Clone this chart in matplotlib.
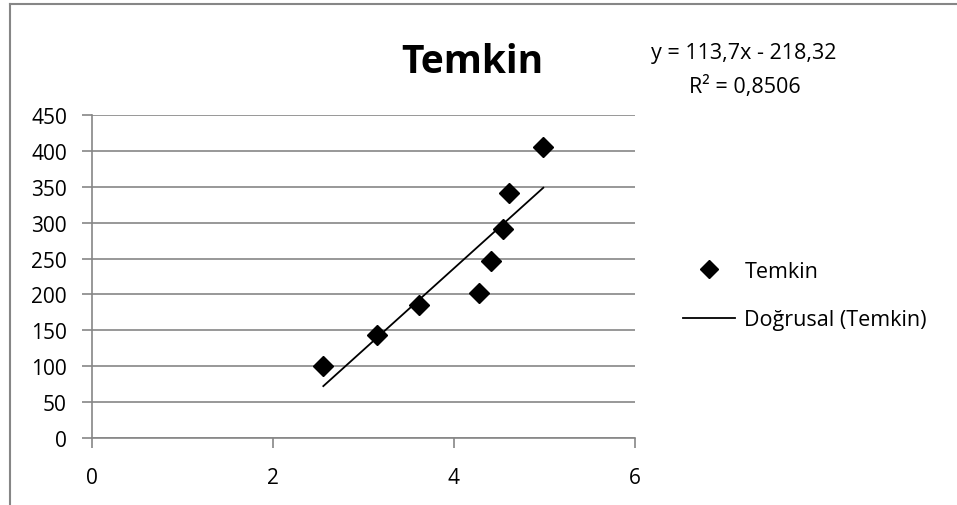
import matplotlib
matplotlib.use("Agg")
import matplotlib.pyplot as plt
from matplotlib.lines import Line2D

plt.rcParams['font.family'] = ['Open Sans', 'DejaVu Sans']

# data --------------------------------------------------------------
x_vals = [2.556, 3.152, 3.617, 4.276, 4.409, 4.538, 4.604, 4.987]
y_vals = [100, 143.5, 185.7, 202.4, 247, 291, 341.7, 405]
slope = 113.7
intercept = -218.32
r2 = 0.8506
series_name = 'Temkin'
trend_name = 'Doğrusal (Temkin)'
x_ticks = [0, 2, 4, 6]
y_ticks = list(range(0, 451, 50))

grid_col = '#868686'
fs = 15

fig = plt.figure(figsize=(9.57, 5.06), dpi=100)
ax = fig.add_axes([92 / 957, 1 - 439 / 506, (635 - 92) / 957, (439 - 116) / 506])

# points + trendline
ax.plot(x_vals, y_vals, linestyle='none', marker='D', markersize=10,
        color='black', zorder=3, clip_on=False)
tx = [min(x_vals), max(x_vals)]
ty = [slope * v + intercept for v in tx]
ax.plot(tx, ty, color='black', linewidth=1.3, zorder=2)

ax.set_xlim(0, 6)
ax.set_ylim(0, 450)
ax.set_xticks(x_ticks)
ax.set_yticks(y_ticks)
ax.yaxis.grid(True, color=grid_col, linewidth=1.2)
ax.set_axisbelow(True)
for s in ['top', 'right']:
    ax.spines[s].set_visible(False)
for s in ['left', 'bottom']:
    ax.spines[s].set_color(grid_col)
    ax.spines[s].set_linewidth(1.2)
ax.tick_params(axis='both', direction='out', length=7, width=1.2,
               color=grid_col, labelsize=fs, labelcolor='black')
ax.tick_params(axis='x', pad=14)
ax.tick_params(axis='y', pad=11)

# title and equation
fig.text(472 / 957, 1 - 73 / 506, series_name, fontsize=28, fontweight='bold',
         ha='center', va='baseline')
eq = 'y = {}x - {}'.format(str(slope).replace('.', ','), str(-intercept).replace('.', ','))
fig.text(744 / 957, 1 - 53 / 506, eq, fontsize=fs + 0.5, ha='center', va='center')
fig.text(745 / 957, 1 - 87 / 506, 'R² = ' + str(r2).replace('.', ','),
         fontsize=fs + 0.5, ha='center', va='center')

# legend
handles = [Line2D([], [], linestyle='none', marker='D', markersize=9, color='black'),
           Line2D([], [], color='black', linewidth=1.3)]
fig.legend(handles, [series_name, trend_name], loc='center left',
           bbox_to_anchor=(683 / 957, 1 - 296.5 / 506), frameon=False,
           fontsize=fs + 0.5, handlelength=2.4, handletextpad=0.45, labelspacing=1.3,
           borderpad=0, borderaxespad=0)

# outer chart border (top and left visible)
fig.add_artist(Line2D([10 / 957, 1], [1 - 5 / 506, 1 - 5 / 506], color=grid_col,
                      linewidth=1.5, transform=fig.transFigure))
fig.add_artist(Line2D([10 / 957, 10 / 957], [0, 1 - 5 / 506], color=grid_col,
                      linewidth=1.5, transform=fig.transFigure))

plt.savefig('out.png', dpi=100)
